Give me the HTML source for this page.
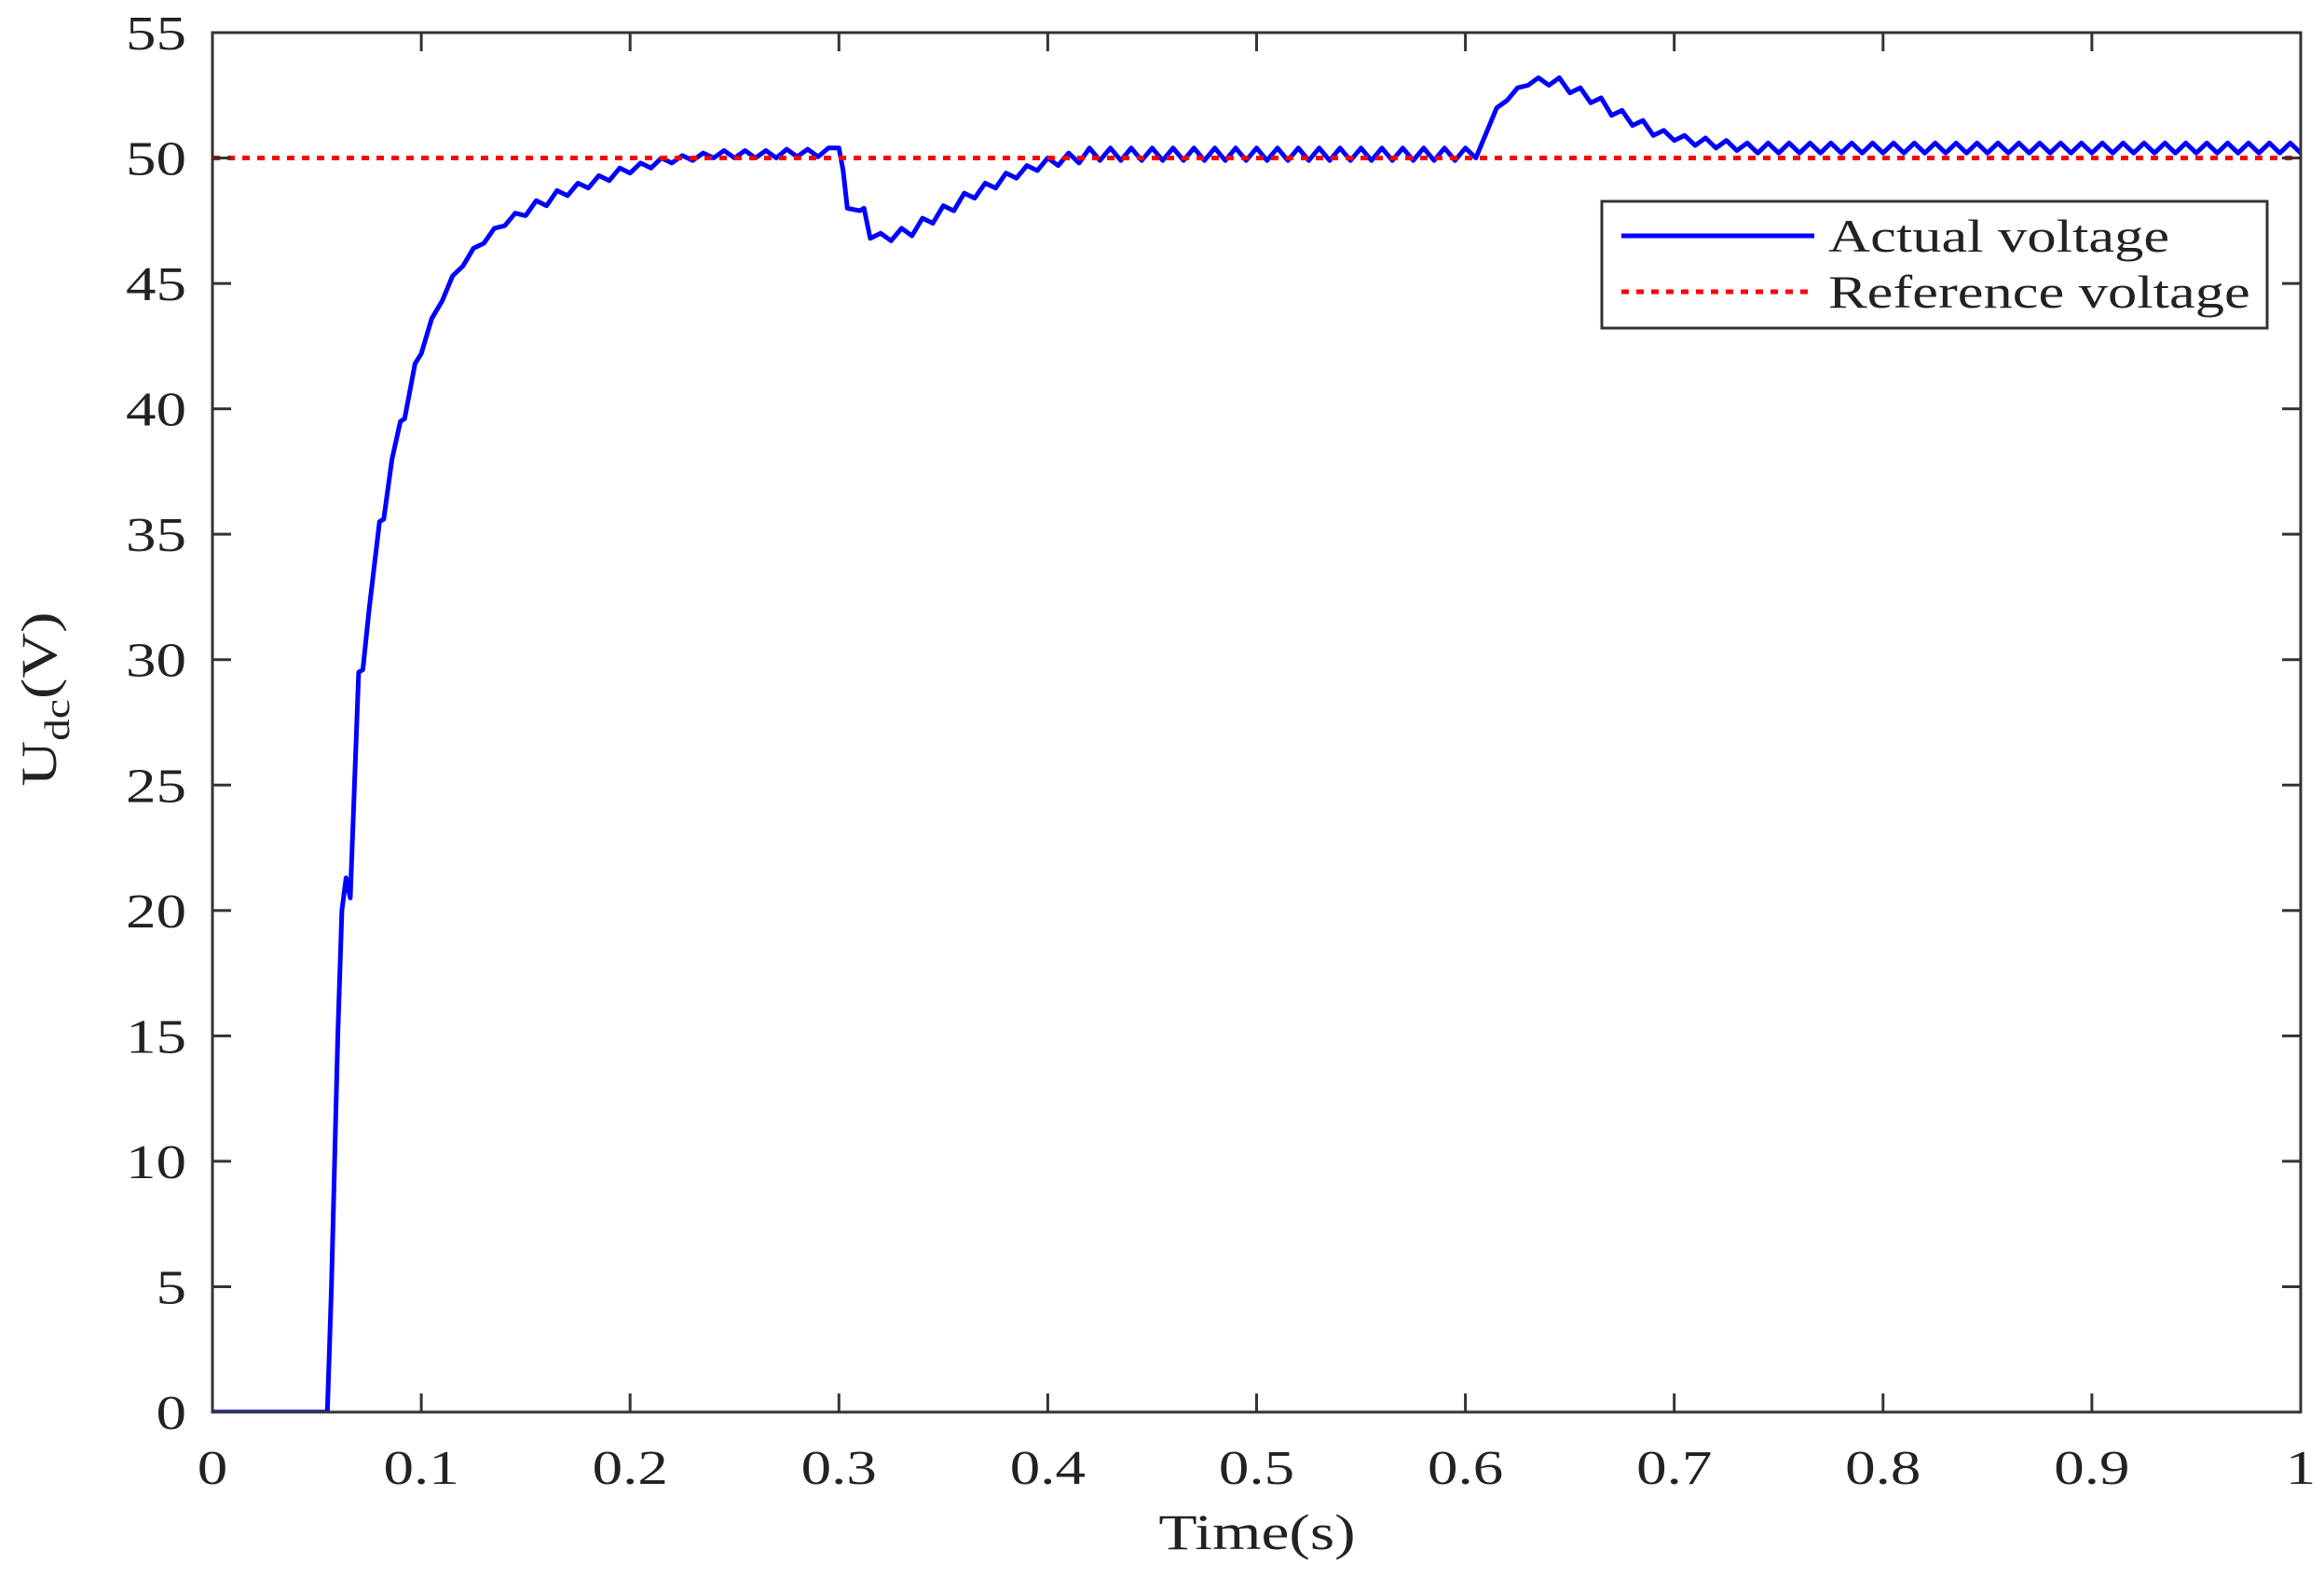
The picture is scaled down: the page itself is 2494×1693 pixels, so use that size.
<!DOCTYPE html>
<html><head><meta charset="utf-8"><style>
html,body{margin:0;padding:0;background:#fff;}
svg text{font-family:"Liberation Serif",serif;fill:#222;}
</style></head><body>
<svg id="chart" width="2494" height="1688" viewBox="0 0 2494 1688" xmlns="http://www.w3.org/2000/svg">
<rect x="0" y="0" width="2494" height="1688" fill="#fff"/>
<g id="plot"></g>
</svg>
<script>
const xTicks=[0,0.1,0.2,0.3,0.4,0.5,0.6,0.7,0.8,0.9,1];
const xTickLabels=["0","0.1","0.2","0.3","0.4","0.5","0.6","0.7","0.8","0.9","1"];
const yTicks=[0,5,10,15,20,25,30,35,40,45,50,55];
const yTickLabels=["0","5","10","15","20","25","30","35","40","45","50","55"];
const refT=[0,1];
const refV=[50,50];
const timeS=[0,0.055,0.057,0.06,0.062,0.064,0.066,0.068,0.07,0.072,0.075,0.08,0.082,0.086,0.09,0.092,0.097,0.1,0.105,0.11,0.115,0.12,0.125,0.13,0.135,0.14,0.145,0.15,0.155,0.16,0.165,0.17,0.175,0.18,0.185,0.19,0.195,0.2,0.205,0.21,0.215,0.22,0.225,0.23,0.235,0.24,0.245,0.25,0.255,0.26,0.265,0.27,0.275,0.28,0.285,0.29,0.295,0.3,0.302,0.304,0.31,0.312,0.315,0.32,0.325,0.33,0.335,0.34,0.345,0.35,0.355,0.36,0.365,0.37,0.375,0.38,0.385,0.39,0.395,0.4,0.405,0.41,0.415,0.42,0.425,0.43,0.435,0.44,0.445,0.45,0.455,0.46,0.465,0.47,0.475,0.48,0.485,0.49,0.495,0.5,0.505,0.51,0.515,0.52,0.525,0.53,0.535,0.54,0.545,0.55,0.555,0.56,0.565,0.57,0.575,0.58,0.585,0.59,0.595,0.6,0.605,0.61,0.615,0.62,0.625,0.63,0.635,0.64,0.645,0.65,0.655,0.66,0.665,0.67,0.675,0.68,0.685,0.69,0.695,0.7,0.705,0.71,0.715,0.72,0.725,0.73,0.735,0.74,0.745,0.75,0.755,0.76,0.765,0.77,0.775,0.78,0.785,0.79,0.795,0.8,0.805,0.81,0.815,0.82,0.825,0.83,0.835,0.84,0.845,0.85,0.855,0.86,0.865,0.87,0.875,0.88,0.885,0.89,0.895,0.9,0.905,0.91,0.915,0.92,0.925,0.93,0.935,0.94,0.945,0.95,0.955,0.96,0.965,0.97,0.975,0.98,0.985,0.99,0.995,1];
const voltV=[0,0,5,15,20,21.3,20.5,25,29.5,29.6,32,35.5,35.6,38,39.5,39.6,41.8,42.2,43.6,44.3,45.3,45.7,46.4,46.6,47.2,47.3,47.8,47.7,48.3,48.1,48.7,48.5,49.0,48.8,49.3,49.1,49.6,49.4,49.8,49.6,50.0,49.8,50.1,49.9,50.2,50.0,50.3,50.0,50.3,50.0,50.3,50.0,50.35,50.05,50.35,50.05,50.4,50.4,49.5,48.0,47.9,48.0,46.8,47.0,46.7,47.2,46.9,47.6,47.4,48.1,47.9,48.6,48.4,49.0,48.8,49.4,49.2,49.7,49.5,50.0,49.7,50.2,49.8,50.4,49.9,50.4,49.9,50.4,49.9,50.4,49.9,50.4,49.9,50.4,49.9,50.4,49.9,50.4,49.9,50.4,49.9,50.4,49.9,50.4,49.9,50.4,49.9,50.4,49.9,50.4,49.9,50.4,49.9,50.4,49.9,50.4,49.9,50.4,49.9,50.4,50.0,51.0,52.0,52.3,52.8,52.9,53.2,52.9,53.2,52.6,52.8,52.2,52.4,51.7,51.9,51.3,51.5,50.9,51.1,50.7,50.9,50.5,50.8,50.4,50.7,50.3,50.6,50.2,50.6,50.2,50.6,50.2,50.6,50.2,50.6,50.2,50.6,50.2,50.6,50.2,50.6,50.2,50.6,50.2,50.6,50.2,50.6,50.2,50.6,50.2,50.6,50.2,50.6,50.2,50.6,50.2,50.6,50.2,50.6,50.2,50.6,50.2,50.6,50.2,50.6,50.2,50.6,50.2,50.6,50.2,50.6,50.2,50.6,50.2,50.6,50.2,50.6,50.2,50.6,50.2,50.6,50.2];

const L=228,R=2469,T=35,B=1515;
const SX=1.25;
const xS=v=>L+(v-0)/(1-0)*(R-L);
const yS=v=>B-(v-0)/(55-0)*(B-T);
const NS="http://www.w3.org/2000/svg";
const g=document.getElementById('plot');
function mk(tag,attrs,parent){const e=document.createElementNS(NS,tag);for(const k in attrs)e.setAttribute(k,attrs[k]);(parent||g).appendChild(e);return e;}
function txt(x,y,size,anchor,parent,extra){return mk('text',{x:0,y:0,'font-size':size,'text-anchor':anchor,transform:'translate('+x+','+y+')'+(extra||'')+' scale('+SX+',1)'},parent);}

const clip=mk('clipPath',{id:'pc'});
mk('rect',{x:L,y:T,width:R-L,height:B-T},clip);
let d='';
for(let i=0;i<timeS.length;i++){d+=(i?'L':'M')+xS(timeS[i]).toFixed(1)+' '+yS(voltV[i]).toFixed(1);}
const act=mk('path',{d:d,fill:'none',stroke:'#0000ff','stroke-width':5,'stroke-linejoin':'round','clip-path':'url(#pc)'});


const ref=mk('path',{d:'M'+xS(refT[0])+' '+yS(refV[0])+'L'+xS(refT[1])+' '+yS(refV[1]),fill:'none',stroke:'#ff0000','stroke-width':5,'stroke-dasharray':'8 8'});



const box=mk('rect',{x:L,y:T,width:R-L,height:B-T,fill:'none',stroke:'#333','stroke-width':3});



xTicks.forEach((v,i)=>{
  const x=xS(v);
  mk('line',{x1:x,y1:B,x2:x,y2:B-20,stroke:'#333','stroke-width':3});
  mk('line',{x1:x,y1:T,x2:x,y2:T+20,stroke:'#333','stroke-width':3});
  const t=txt(x,1592,52,'middle');
  t.textContent=xTickLabels[i];
  
  
});
yTicks.forEach((v,i)=>{
  const y=yS(v);
  mk('line',{x1:L,y1:y,x2:L+20,y2:y,stroke:'#333','stroke-width':3});
  mk('line',{x1:R,y1:y,x2:R-20,y2:y,stroke:'#333','stroke-width':3});
  const t=txt(200,y+18,52,'end');
  t.textContent=yTickLabels[i];
  
  
});

const xt=txt(1349,1662,54,'middle');
xt.textContent='Time(s)';



const yt=txt(60,750,54,'middle',null,' rotate(-90)');
yt.innerHTML='U<tspan font-size="38" dy="14">dc</tspan><tspan dy="-14">(V)</tspan>';



const lg=mk('g',{});


mk('rect',{x:1719,y:216,width:714,height:136,fill:'#fff',stroke:'#333','stroke-width':3},lg);
const l1=mk('line',{x1:1740,y1:253,x2:1947,y2:253,stroke:'#0000ff','stroke-width':5},lg);


const t1=txt(1962,270,50,'start',lg);
t1.textContent='Actual voltage';


const l2=mk('line',{x1:1740,y1:313,x2:1947,y2:313,stroke:'#ff0000','stroke-width':5,'stroke-dasharray':'8 8'},lg);


const t2=txt(1962,330,50,'start',lg);
t2.textContent='Reference voltage';


</script>
</body></html>
